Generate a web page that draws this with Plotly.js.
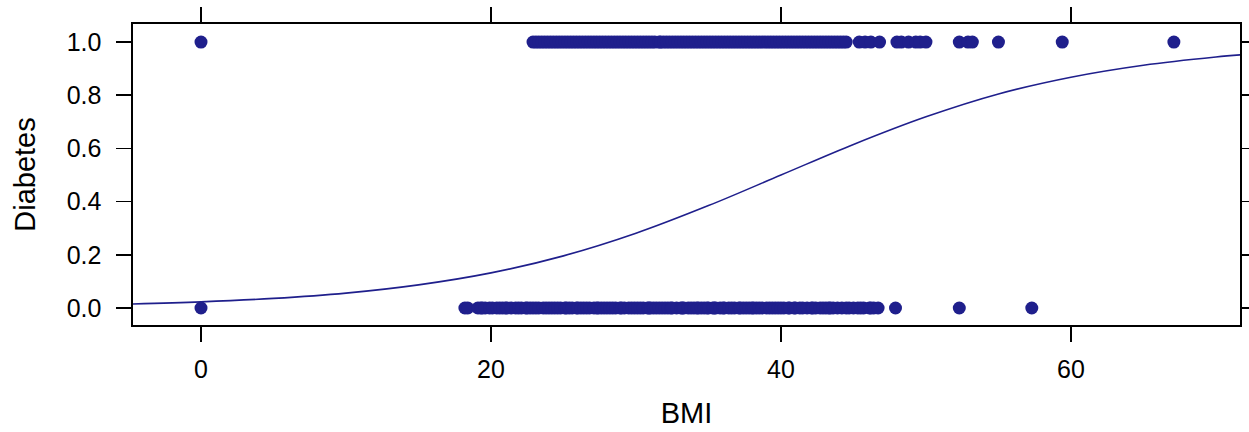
<!DOCTYPE html>
<html>
<head>
<meta charset="utf-8">
<script src="https://cdn.plot.ly/plotly-3.0.1.min.js"></script>
<style>html,body{margin:0;padding:0;background:#fff;}#chart{width:1249px;height:432px;}</style>
</head>
<body>
<div id="chart"></div>
<script>
// BMI of observations with Diabetes = 0
const bmiNoDiabetes = [0, 18.2, 18.4, 19.1, 19.3, 19.4, 19.6, 19.9, 20.1, 20.4, 20.6, 20.8, 21.0, 21.1, 21.4, 21.7, 21.9, 22.1, 22.4, 22.5, 22.7, 22.9, 23.1, 23.3, 23.6, 23.8, 24.0, 24.2, 24.4, 24.6, 24.8, 25.1, 25.2, 25.4, 25.6, 25.9, 26.0, 26.2, 26.4, 26.6, 26.8, 27.1, 27.3, 27.4, 27.6, 27.8, 28.0, 28.2, 28.4, 28.6, 28.9, 29.0, 29.2, 29.5, 29.7, 29.9, 30.1, 30.3, 30.5, 30.8, 30.9, 31.0, 31.2, 31.4, 31.6, 31.8, 32.0, 32.2, 32.4, 32.5, 32.8, 33.1, 33.2, 33.3, 33.6, 33.8, 34.0, 34.2, 34.3, 34.5, 34.7, 34.9, 35.0, 35.3, 35.4, 35.5, 35.8, 36.0, 36.1, 36.4, 36.6, 36.8, 37.1, 37.2, 37.4, 37.6, 37.8, 38.0, 38.1, 38.3, 38.5, 38.7, 39.0, 39.2, 39.4, 39.6, 39.8, 40.0, 40.2, 40.5, 40.6, 40.9, 41.0, 41.3, 41.5, 41.8, 42.1, 42.2, 42.4, 42.7, 42.9, 43.1, 43.3, 43.4, 43.6, 43.9, 44.2, 44.5, 44.7, 45.0, 45.3, 45.5, 45.7, 46.1, 46.2, 46.4, 46.7, 47.9, 52.3, 57.3];
// BMI of observations with Diabetes = 1
const bmiDiabetes = [0, 22.9, 23.1, 23.3, 23.5, 23.7, 23.9, 24.1, 24.3, 24.5, 24.7, 24.9, 25.1, 25.3, 25.5, 25.7, 25.9, 26.1, 26.3, 26.5, 26.7, 26.9, 27.1, 27.3, 27.5, 27.7, 27.9, 28.1, 28.3, 28.5, 28.7, 28.9, 29.1, 29.3, 29.5, 29.7, 29.9, 30.1, 30.3, 30.5, 30.7, 30.9, 31.1, 31.3, 31.6, 31.7, 31.9, 32.1, 32.3, 32.5, 32.7, 32.9, 33.1, 33.3, 33.5, 33.7, 33.9, 34.1, 34.3, 34.5, 34.7, 34.9, 35.1, 35.3, 35.5, 35.7, 35.9, 36.1, 36.3, 36.5, 36.7, 36.9, 37.1, 37.3, 37.5, 37.7, 37.9, 38.1, 38.3, 38.5, 38.7, 38.9, 39.1, 39.3, 39.5, 39.7, 39.9, 40.1, 40.3, 40.5, 40.7, 40.9, 41.1, 41.3, 41.5, 41.7, 41.9, 42.1, 42.3, 42.5, 42.7, 42.9, 43.1, 43.3, 43.5, 43.7, 43.9, 44.1, 44.3, 44.5, 45.4, 45.8, 46.2, 46.8, 48.0, 48.3, 48.8, 49.3, 49.6, 50.0, 52.3, 52.9, 53.2, 55.0, 59.4, 67.1];
// fitted probability curve
const curveBMI = [-4.7, 0, 5, 10, 15, 20, 25, 30, 35, 40, 45, 50, 55, 60, 65, 70, 71.7];
const curveProb = [0.015, 0.023, 0.036, 0.056, 0.087, 0.132, 0.196, 0.281, 0.385, 0.500, 0.615, 0.719, 0.805, 0.868, 0.913, 0.944, 0.952];
const xTicks = [0, 20, 40, 60];
const yTicks = [0, 0.2, 0.4, 0.6, 0.8, 1.0];
const yTickText = ['0.0', '0.2', '0.4', '0.6', '0.8', '1.0'];

const col = '#1f1f8c';
const traces = [
  {x: bmiNoDiabetes, y: bmiNoDiabetes.map(() => 0), type: 'scatter', mode: 'markers',
   marker: {color: col, size: 13}, hoverinfo: 'x+y'},
  {x: bmiDiabetes, y: bmiDiabetes.map(() => 1), type: 'scatter', mode: 'markers',
   marker: {color: col, size: 13}, hoverinfo: 'x+y'},
  {x: curveBMI, y: curveProb, type: 'scatter', mode: 'lines',
   line: {color: col, width: 1.6, shape: 'spline'}, hoverinfo: 'x+y'}
];
const font = {family: 'Liberation Sans, Arial, sans-serif', color: '#000'};
const axisCommon = {
  showline: true, mirror: 'allticks', linecolor: '#000', linewidth: 1.6,
  ticks: 'outside', ticklen: 15, tickwidth: 1.6, tickcolor: '#000',
  showgrid: false, zeroline: false, tickfont: Object.assign({size: 25}, font)
};
const layout = {
  width: 1249, height: 432,
  margin: {l: 133, r: 9, t: 24, b: 107},
  paper_bgcolor: '#fff', plot_bgcolor: '#fff',
  showlegend: false,
  font: font,
  xaxis: Object.assign({}, axisCommon, {
    range: [-4.69, 71.66], tickvals: xTicks, ticklabelstandoff: 6,
    title: {text: 'BMI', font: Object.assign({size: 29}, font), standoff: 21}
  }),
  yaxis: Object.assign({}, axisCommon, {
    range: [-0.064, 1.068], tickvals: yTicks, ticktext: yTickText, ticklabelstandoff: 10,
    title: {text: 'Diabetes', font: Object.assign({size: 29}, font), standoff: 22}
  })
};
Plotly.newPlot('chart', traces, layout, {displayModeBar: false, staticPlot: true});
</script>
</body>
</html>
